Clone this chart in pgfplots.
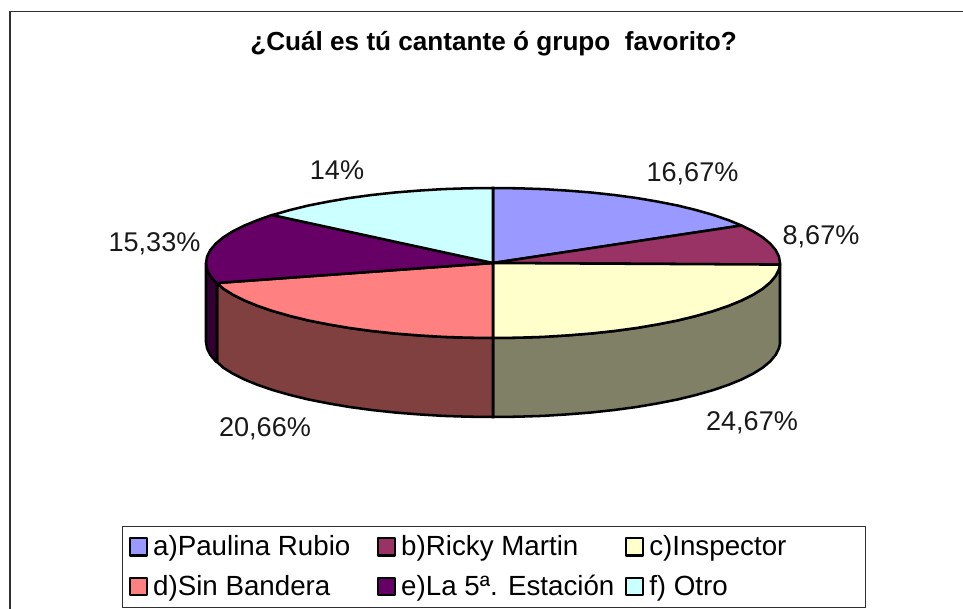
\documentclass[border=0pt]{standalone}
\usepackage{pgfplots}
\usepackage{fontspec}
\setmainfont{Liberation Sans}
\pgfplotsset{compat=1.18}
\definecolor{ca}{HTML}{9999FF}
\definecolor{cb}{HTML}{993366}
\definecolor{cc}{HTML}{FFFFCC}
\definecolor{cd}{HTML}{FF8080}
\definecolor{ce}{HTML}{660066}
\definecolor{cf}{HTML}{CCFFFF}
\definecolor{sc}{HTML}{808066}
\definecolor{sd}{HTML}{804040}
\definecolor{se}{HTML}{330033}
\definecolor{frame}{HTML}{303030}
\newcommand{\lgc}[1]{\hspace*{1pt}\makebox[165.4pt][l]{#1}}
\newcommand{\lgl}[1]{\hspace*{1pt}\makebox[155pt][l]{#1}}
\begin{document}
\begin{tikzpicture}
\begin{axis}[
  scale only axis, width=722.25pt, height=456.75pt,
  xmin=0, xmax=963, ymin=0, ymax=609, y dir=reverse,
  axis lines=none, no markers,
  title={¿Cuál es tú cantante ó grupo\ \ favorito?},
  title style={at={(0.5125,0.9146)}, anchor=center, font=\fontsize{19.6pt}{22pt}\selectfont\bfseries, inner sep=0pt},
  every axis plot/.append style={draw=black, line width=1.9pt, line join=round},
  legend columns=3,
  legend cell align=left,
  legend image code/.code={\draw[#1,line width=1.7pt] (0pt,-6.5pt) rectangle (12.75pt,6.5pt);},
  legend style={at={(122/963,83/609)}, anchor=north west, draw=frame, line width=0.8pt,
    font=\fontsize{20.8pt}{24pt}\selectfont, inner xsep=4.9pt, inner ysep=5pt,
    row sep=9pt, column sep=0pt, nodes={inner xsep=2.6pt, inner ysep=2pt}},
]
% page extent
\addplot[forget plot, draw=none, fill=white] coordinates {(0,0) (963,0) (963,609) (0,609)} --cycle;
% frame
\addplot[forget plot, draw=frame, line width=0.9pt] coordinates {(10,609) (10,11.5) (963,11.5)};
% sides
\addplot[forget plot, fill=sc] coordinates {(780,264.6) (778.9,269.5) (775.6,276) (770.2,282.4) (762.7,288.7) (753.1,294.7) (741.5,300.5) (728.1,306) (712.8,311.2) (695.9,316) (677.5,320.5) (657.6,324.4) (636.5,328) (614.3,331) (591.2,333.5) (567.3,335.4) (542.8,336.9) (518,337.7) (493,338)
 (493,417) (518,416.7) (542.8,415.9) (567.3,414.4) (591.2,412.5) (614.3,410) (636.5,407) (657.6,403.4) (677.5,399.5) (695.9,395) (712.8,390.2) (728.1,385) (741.5,379.5) (753.1,373.7) (762.7,367.7) (770.2,361.4) (775.6,355) (778.9,348.5) (780,343.6)} --cycle;
\addplot[forget plot, fill=sd] coordinates {(493,338) (468,337.7) (443.2,336.9) (418.7,335.4) (394.8,333.5) (371.7,331) (349.5,328) (328.4,324.4) (308.5,320.5) (290.1,316) (273.2,311.2) (257.9,306) (244.5,300.5) (232.9,294.7) (223.3,288.7) (217,283)
 (217,362) (223.3,367.7) (232.9,373.7) (244.5,379.5) (257.9,385) (273.2,390.2) (290.1,395) (308.5,399.5) (328.4,403.4) (349.5,407) (371.7,410) (394.8,412.5) (418.7,414.4) (443.2,415.9) (468,416.7) (493,417)} --cycle;
\addplot[forget plot, fill=se] coordinates {(217,283) (215.8,282.4) (210.4,276) (207.1,269.5) (206,263) (206,342) (207.1,348.5) (210.4,355) (215.8,361.4) (217,362)} --cycle;
% tops
\addplot[fill=ca] coordinates {(493,263) (493,188) (518,188.3) (542.8,189.1) (567.3,190.6) (591.2,192.5) (614.3,195) (636.5,198) (657.6,201.6) (677.5,205.5) (695.9,210) (712.8,214.8) (728.1,220) (741.5,225.5)} --cycle;
\addlegendentry{\lgc{a)Paulina Rubio}}
\addplot[fill=cb] coordinates {(493,263) (741.5,225.5) (753.1,231.3) (762.7,237.3) (770.2,243.6) (775.6,250) (778.9,256.5) (780,263) (780,264.6)} --cycle;
\addlegendentry{\lgc{b)Ricky Martin}}
\addplot[fill=cc] coordinates {(493,263) (780,264.6) (778.9,269.5) (775.6,276) (770.2,282.4) (762.7,288.7) (753.1,294.7) (741.5,300.5) (728.1,306) (712.8,311.2) (695.9,316) (677.5,320.5) (657.6,324.4) (636.5,328) (614.3,331) (591.2,333.5) (567.3,335.4) (542.8,336.9) (518,337.7) (493,338)} --cycle;
\addlegendentry{\lgl{c)Inspector}}
\addplot[fill=cd] coordinates {(493,263) (493,338) (468,337.7) (443.2,336.9) (418.7,335.4) (394.8,333.5) (371.7,331) (349.5,328) (328.4,324.4) (308.5,320.5) (290.1,316) (273.2,311.2) (257.9,306) (244.5,300.5) (232.9,294.7) (223.3,288.7) (217,283)} --cycle;
\addlegendentry{\lgc{d)Sin Bandera}}
\addplot[fill=ce] coordinates {(493,263) (217,283) (215.8,282.4) (210.4,276) (207.1,269.5) (206,263) (207.1,256.5) (210.4,250) (215.8,243.6) (223.3,237.3) (232.9,231.3) (244.5,225.5) (257.9,220) (272,215)} --cycle;
\addlegendentry{\lgc{e)La 5ª. Estación}}
\addplot[fill=cf] coordinates {(493,263) (272,215) (273.2,214.8) (290.1,210) (308.5,205.5) (328.4,201.6) (349.5,198) (371.7,195) (394.8,192.5) (418.7,190.6) (443.2,189.1) (468,188.3) (493,188)} --cycle;
\addlegendentry{\lgl{f) Otro}}
% labels
\begin{scope}[every node/.style={anchor=base, inner sep=0pt, font=\fontsize{20.3pt}{24pt}\selectfont, text=black!90}]
\node at (axis cs:692.5,182) {16,67\%};
\node at (axis cs:821,245) {8,67\%};
\node at (axis cs:752,430) {24,67\%};
\node at (axis cs:265,436) {20,66\%};
\node at (axis cs:154.5,252) {15,33\%};
\node at (axis cs:337,180) {14\%};
\end{scope}
\end{axis}
\end{tikzpicture}
\end{document}
